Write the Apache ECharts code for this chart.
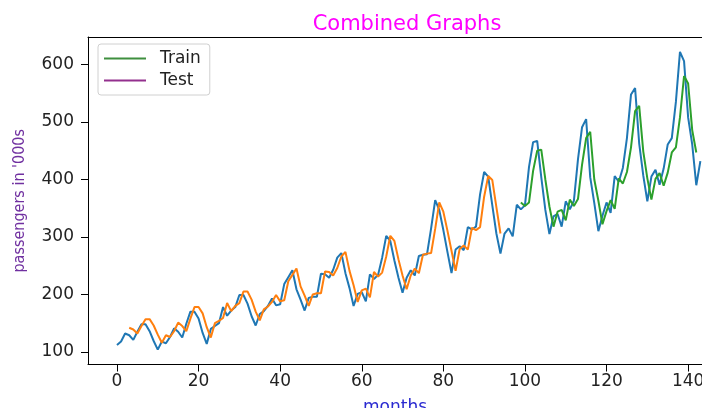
<!DOCTYPE html>
<html>
<head>
<meta charset="utf-8">
<script src="https://cdn.jsdelivr.net/npm/echarts@6/dist/echarts.min.js"></script>
<style>
html,body{margin:0;padding:0;background:#fff;}
#chart{width:702px;height:408px;}
</style>
</head>
<body>
<div id="chart"></div>
<script>
// Actual monthly passengers (thousands), months 0..143
var passengers = [112,118,132,129,121,135,148,148,136,119,104,118,
115,126,141,135,125,149,170,170,158,133,114,140,
145,150,178,163,172,178,199,199,184,162,146,166,
171,180,193,181,183,218,230,242,209,191,172,194,
196,196,236,235,229,243,264,272,237,211,180,201,
204,188,235,227,234,264,302,293,259,229,203,229,
242,233,267,269,270,315,364,347,312,274,237,278,
284,277,317,313,318,374,413,405,355,306,271,306,
315,301,356,348,355,422,465,467,404,347,305,336,
340,318,362,348,363,435,491,505,404,359,310,337,
360,342,406,396,420,472,548,559,463,407,362,405,
417,391,419,461,472,535,622,606,508,461,390,432];

// Train predictions (orange), starting at month 3
var trainStart = 3;
var trainPred = [142,139,132,145,157,157,146,130,116,129,126,136,151,145,136,158,178,178,167,143,125,150,
154,159,185,171,180,185,205,205,191,170,155,174,179,187,199,188,190,223,234,245,214,198,180,200,
202,202,240,239,233,246,266,274,241,216,187,207,210,195,239,231,238,266,302,293,261,233,209,233,
245,237,269,271,272,314,360,344,311,276,241,279,285,278,316,312,317,370,406,399,352,306];

// Test predictions (green), starting at month 99
var testStart = 99;
var testPred = [360,354,360,415,450,452,400,353,318,344,347,329,365,354,366,426,472,483,400,363,322,
345,364,349,402,393,413,456,519,528,449,402,365,401,411,389,412,447,456,508,580,567,486,447];

var xTicks = [0,20,40,60,80,100,120,140];
var yTicks = [100,200,300,400,500,600];

function pairs(arr, start){ return arr.map(function(v,i){ return [start+i, v]; }); }

var chart = echarts.init(document.getElementById('chart'), null, {renderer:'canvas'});
var axisFont = {color:'#222', fontSize:17, fontFamily:'DejaVu Sans'};
chart.setOption({
  animation:false,
  backgroundColor:'#fff',
  title:{text:'Combined Graphs', left:402, top:9, textAlign:'center',
    textStyle:{color:'#ff00ff', fontSize:21, fontWeight:'normal', fontFamily:'DejaVu Sans'}},
  grid:{left:88, top:37, right:0, bottom:43.5, show:false, containLabel:false, outerBoundsMode:'none'},
  legend:{
    orient:'vertical', left:98, top:44,
    data:['Train','Test'],
    icon:'rect', itemWidth:42, itemHeight:2, itemGap:5,
    backgroundColor:'#fff', borderColor:'#d0d0d0', borderWidth:1, borderRadius:3,
    padding:[6,9,6,6],
    textStyle:{color:'#222', fontSize:17, lineHeight:17, fontFamily:'DejaVu Sans', padding:[0,0,0,9]}
  },
  xAxis:[{type:'value', min:-7.1, max:143.4,
    name:'months', nameLocation:'middle', nameGap:35,
    nameTextStyle:{color:'#2a2ad0', fontSize:17, fontFamily:'DejaVu Sans'},
    axisLine:{show:true, onZero:false, lineStyle:{color:'#000', width:1}},
    axisTick:{show:true, length:7, customValues:xTicks, lineStyle:{color:'#000'}},
    axisLabel:Object.assign({customValues:xTicks, margin:9}, axisFont),
    splitLine:{show:false}},
    {type:'value', position:'top', min:-7.1, max:143.4,
    axisLine:{show:true, onZero:false, lineStyle:{color:'#000', width:1}},
    axisTick:{show:false}, axisLabel:{show:false}, splitLine:{show:false}}],
  yAxis:{type:'value', min:78.1, max:647.9,
    name:"passengers in '000s", nameLocation:'middle', nameRotate:90, nameGap:60,
    nameTextStyle:{color:'#7030a0', fontSize:16, fontFamily:"'DejaVu Sans Condensed','Liberation Sans'"},
    axisLine:{show:true, onZero:false, lineStyle:{color:'#000', width:1}},
    axisTick:{show:true, length:7, customValues:yTicks, lineStyle:{color:'#000'}},
    axisLabel:Object.assign({customValues:yTicks, margin:14}, axisFont),
    splitLine:{show:false}},
  series:[
    {name:'actual', type:'line', data:pairs(passengers,0), showSymbol:false, lineStyle:{width:2, color:'#1f77b4'}, itemStyle:{color:'#1f77b4'}},
    {name:'trainPred', type:'line', data:pairs(trainPred,trainStart), showSymbol:false, lineStyle:{width:2, color:'#ff7f0e'}, itemStyle:{color:'#ff7f0e'}},
    {name:'testPred', type:'line', data:pairs(testPred,testStart), showSymbol:false, lineStyle:{width:2, color:'#2ca02c'}, itemStyle:{color:'#2ca02c'}},
    {name:'Train', type:'line', data:[], itemStyle:{color:'#3f8f3f'}, lineStyle:{color:'#3f8f3f'}},
    {name:'Test', type:'line', data:[], itemStyle:{color:'#93308e'}, lineStyle:{color:'#93308e'}}
  ]
});
</script>
</body>
</html>
